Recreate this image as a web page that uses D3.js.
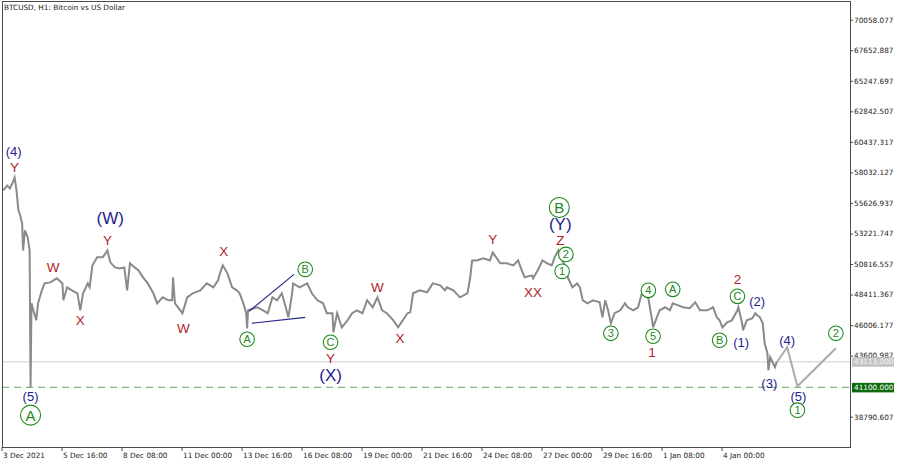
<!DOCTYPE html>
<html><head><meta charset="utf-8">
<script src="https://cdn.jsdelivr.net/npm/d3@7"></script>
<style>body{margin:0;background:#fff}svg{display:block}</style>
</head><body><svg id="c" width="900" height="461"></svg>
<script>
// ---------------- data ----------------
const chartTitle = "BTCUSD, H1:  Bitcoin vs US Dollar";
const startDate = Date.UTC(2021, 11, 3, 0, 0); // 3 Dec 2021 00:00
const viewHours = 906.13; // visible hours across the plot

// hourly path (hours since start, price)
const priceHours = [2,6,9,12,14,16,18,20,22,23,25,28,30,31,32,34,37,39,43,46,52,59,65,66,70,75,81,84,87,92,94,97,102,108,113,116,121,126,131,134,137,142,146,151,156,162,166,172,178,182,183,185,193,198,204,212,219,226,231,233,236,
  241,246,251,254,258,261,262,263,273,279,284,289,294,299,302,306,310,311,318,326,331,337,343,347,353,354,358,363,369,374,379,385,390,396,401,406,411,418,423,428,433,436,439,446,454,460,468,473,
  475,482,489,497,500,502,507,514,521,524,532,539,546,551,555,558,566,567,572,577,582,587,590,594,598,601,604,609,614,617,620,625,631,638,641,644,647,650,654,660,665,668,674,679,683,686,690,694,695,699,702,708,
  713,716,722,727,734,740,745,753,759,763,766,769,774,779,785,786,790,791,795,801,804,806,809,812,814,817,818,820,823,825,827];
const priceValues = [56610,57000,56770,57240,57630,56610,55040,54640,54010,51890,53460,52910,51890,41110,47720,47170,46380,47720,48740,49290,49370,49690,49290,47960,48980,48740,48510,47170,48510,49290,48980,50710,51340,51340,51890,50950,50550,50470,50550,48740,50870,50550,50320,49770,49290,48510,47720,48190,47960,47960,49770,47720,46940,48190,48510,48740,49290,48980,49530,50080,50710,
  50080,48980,48740,48510,47720,46940,45750,47170,47410,47170,46940,48190,47960,48510,47720,46620,48510,49290,48980,49290,48510,47960,47720,46940,46940,45440,46940,45830,46380,46940,47170,46940,47960,47410,48190,47170,46940,46380,45830,46380,46940,47010,48510,48740,48590,49290,49140,48740,
  48980,48740,48190,48510,49770,51100,51100,51260,51100,51730,50870,50870,50710,51100,50320,49770,49920,49690,50320,51100,50870,50710,51340,51890,51100,50710,49770,48980,49290,48980,47960,47720,47960,47800,46620,47960,47170,46150,46940,47170,47720,47410,47170,47410,48510,48350,48110,46380,45830,46620,47170,47410,
  47170,47720,47560,47410,47330,47800,47170,47170,47410,46620,46380,45830,46230,46380,47170,47410,46150,45600,46380,46540,46940,46780,46620,46150,44580,43790,42450,43470,43000,42690,43110];

// forecast path
const projectionHours = [827, 838, 849, 890];
const projectionValues = [43080, 44260, 41190, 44180];

// triangle boundary lines
const triangleHours = [[264, 312], [267, 324]];
const trianglePrices = [[47090, 50000], [46150, 46620]];

// levels
const currentPrice = 43113.000;
const targetLevel = 41100.000;

// axes
const timeTickHours = [0,64,128,192,256,320,384,448,512,576,640,704,768];
const timeTickLabels = ["3 Dec 2021","5 Dec 16:00","8 Dec 08:00","11 Dec 00:00","13 Dec 16:00","16 Dec 08:00","19 Dec 00:00","21 Dec 16:00","24 Dec 08:00","27 Dec 00:00","29 Dec 16:00","1 Jan 08:00","4 Jan 00:00"];
const priceTicks = [70058.077,67652.887,65247.697,62842.507,60437.317,58032.127,55626.937,53221.747,50816.557,48411.367,46006.177,43600.987,38790.607];

// wave labels
const waveText = ["(4)","Y","(W)","Y","W","X","W","X","(5)","A","A","B","C","Y","(X)","W","X","Y","XX","B","(Y)","Z","2","1","3","4","5","1","A","2","C","B","(1)","(2)","(4)","(3)","(5)","1","2"];
const waveHour = [13,14,116,113,55,84,194,237,31,31,262,324,351,351,351,401,425,524,567,595,596,596,602,598,650,690,695,694,716,785,785,766,789,806,838,819,850,849,890];
const wavePrice = [59676,58418,54485,52676,50552,46384,45755,51811,40407,38913,44890,50395,44654,43394,42100,48979,44969,52755,48586,55271,53980,52700,51575,50238,45361,48743,45125,43867,48822,49609,48271,44811,44654,47878,44811,41429,40407,39306,45361];
const waveDegree = ["minor","subminuette","intermediate","subminuette","subminuette","subminuette","subminuette","subminuette","minor","primary","minute","minute","minute","subminuette","intermediate","subminuette","subminuette","subminuette","subminuette","primary","intermediate","subminuette","minute","minute","minute","minute","minute","subminuette","minute","subminuette","minute","minute","minor","minor","minor","minor","minor","minute","minute"];

// ---------------- drawing ----------------
const W = 900, H = 461;
const plot = {left: 2, top: 1, right: 851, bottom: 447};
const hToDate = h => new Date(startDate + h * 3600e3);

const x = d3.scaleUtc().domain([hToDate(0), hToDate(viewHours)]).range([1.5, plot.right]);
const y = d3.scaleLinear().domain([38790.607, 70058.077]).range([416.7, 19.7]);

const svg = d3.select("#c");
svg.append("rect").attr("width", W).attr("height", H).attr("fill", "#fff");

svg.append("defs").append("clipPath").attr("id", "clip")
  .append("rect").attr("x", plot.left).attr("y", plot.top)
  .attr("width", plot.right - plot.left).attr("height", plot.bottom - plot.top);

const g = svg.append("g").attr("clip-path", "url(#clip)");

// current price line
g.append("line").attr("x1", plot.left).attr("x2", plot.right)
  .attr("y1", y(currentPrice)).attr("y2", y(currentPrice))
  .attr("stroke", "#cfcfcf").attr("stroke-width", 1);

// target dashed level
g.append("line").attr("x1", plot.left).attr("x2", plot.right)
  .attr("y1", y(targetLevel)).attr("y2", y(targetLevel))
  .attr("stroke", "#7fb47f").attr("stroke-width", 1.2).attr("stroke-dasharray", "7,5");

// price line
const pricePts = priceHours.map((h, i) => [hToDate(h), priceValues[i]]);
const line = d3.line().x(d => x(d[0])).y(d => y(d[1]));
g.append("path").datum(pricePts).attr("d", line)
  .attr("fill", "none").attr("stroke", "#8a8a8a").attr("stroke-width", 2).attr("stroke-linejoin", "miter");

// projection
const projPts = projectionHours.map((h, i) => [hToDate(h), projectionValues[i]]);
g.append("path").datum(projPts).attr("d", line)
  .attr("fill", "none").attr("stroke", "#ababab").attr("stroke-width", 2);

// triangle
triangleHours.forEach((hs, i) => {
  g.append("line")
    .attr("x1", x(hToDate(hs[0]))).attr("y1", y(trianglePrices[i][0]))
    .attr("x2", x(hToDate(hs[1]))).attr("y2", y(trianglePrices[i][1]))
    .attr("stroke", "#24248c").attr("stroke-width", 1.2);
});

// wave labels
const degreeStyle = {
  subminuette: {color: "#b01e1e", size: 13.5, circle: 0},
  minor: {color: "#23238e", size: 13, circle: 0},
  intermediate: {color: "#23238e", size: 17, circle: 0},
  minute: {color: "#1b8a1b", size: 11, circle: 7.3},
  primary: {color: "#1b8a1b", size: 15, circle: 10}
};
waveText.forEach((t, i) => {
  const s = degreeStyle[waveDegree[i]];
  const cx = x(hToDate(waveHour[i])), cy = y(wavePrice[i]);
  if (s.circle) {
    g.append("circle").attr("cx", cx).attr("cy", cy).attr("r", s.circle)
      .attr("fill", "#fff").attr("stroke", s.color).attr("stroke-width", 1.1);
  }
  g.append("text").attr("x", cx).attr("y", cy).attr("dy", "0.36em")
    .attr("text-anchor", "middle")
    .attr("font-family", "'Liberation Sans', Arial, sans-serif")
    .attr("font-size", s.size).attr("fill", s.color).text(t);
});

// frame
svg.append("rect").attr("x", plot.left + 0.5).attr("y", plot.top + 0.5)
  .attr("width", plot.right - plot.left - 1).attr("height", plot.bottom - plot.top)
  .attr("fill", "none").attr("stroke", "#4a4a4a").attr("stroke-width", 1);

// title
svg.append("text").attr("x", 4).attr("y", 10)
  .attr("font-family", "'DejaVu Sans', Tahoma, sans-serif").attr("font-size", 7.3)
  .attr("fill", "#222").text(chartTitle);

// x axis
const xAxis = d3.axisBottom(x)
  .tickValues(timeTickHours.map(hToDate))
  .tickFormat((d, i) => timeTickLabels[i])
  .tickSize(4).tickPadding(2);
const xg = svg.append("g").attr("transform", `translate(0,${plot.bottom})`).call(xAxis);
xg.select(".domain").remove();
xg.selectAll(".tick line").attr("stroke", "#4a4a4a");
xg.selectAll(".tick text").attr("text-anchor", "start").attr("x", 1)
  .attr("font-family", "'DejaVu Sans', Tahoma, sans-serif").attr("font-size", 7.3).attr("fill", "#222");

// y axis
const yAxis = d3.axisRight(y).tickValues(priceTicks).tickFormat(d3.format(".3f"))
  .tickSize(2).tickPadding(1);
const yg = svg.append("g").attr("transform", `translate(${plot.right},0)`).call(yAxis);
yg.select(".domain").remove();
yg.selectAll(".tick line").attr("stroke", "#4a4a4a");
yg.selectAll(".tick text")
  .attr("font-family", "'DejaVu Sans', Tahoma, sans-serif").attr("font-size", 7.3).attr("fill", "#222");

// price tags
function tag(price, bg, fg) {
  const cy = y(price);
  svg.append("rect").attr("x", plot.right + 1).attr("y", cy - 4.5).attr("width", 42).attr("height", 9.5).attr("fill", bg);
  svg.append("text").attr("x", plot.right + 3).attr("y", cy).attr("dy", "0.35em")
    .attr("font-family", "'DejaVu Sans', Tahoma, sans-serif").attr("font-size", 7.3)
    .attr("fill", fg).text(d3.format(".3f")(price));
}
tag(currentPrice, "#c4c4c4", "#f4f4f4");
tag(targetLevel, "#0b6b0b", "#ffffff");
</script></body></html>
